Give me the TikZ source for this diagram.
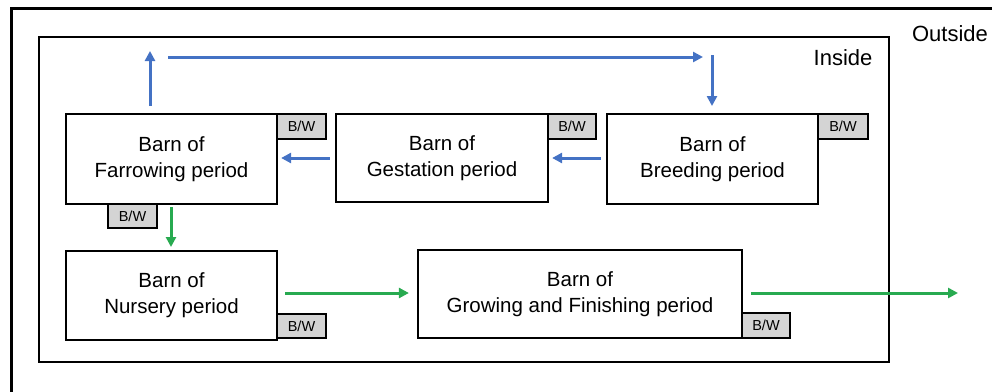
\documentclass[tikz,border=0pt]{standalone}
\usepackage{fontspec}
\setmainfont{Liberation Sans}
\usetikzlibrary{arrows.meta}
\definecolor{bluearr}{RGB}{68,114,196}
\definecolor{greenarr}{RGB}{40,170,80}
\definecolor{bwgray}{RGB}{212,212,212}
\tikzset{
  barn/.style={draw, line width=2.2pt, inner sep=0pt, align=center, font=\fontsize{20.5}{26}\selectfont},
  bw/.style={draw, line width=2.2pt, fill=bwgray, inner sep=0pt, font=\fontsize{14.5}{16}\selectfont},
  barrow/.style={bluearr, line width=3pt, -{Triangle[length=10pt,width=10pt]}},
  garrow/.style={greenarr, line width=3pt, -{Triangle[length=10pt,width=10pt]}},
  frame/.style={draw, line width=2.6pt},
  lab/.style={font=\fontsize{22}{26}\selectfont}
}
\begin{document}
\begin{tikzpicture}[x=1pt,y=-1pt]
\useasboundingbox (0,0) rectangle (992,391);
% outer frame
\draw[line width=3pt] (11,395) -- (11,8) -- (996,8);
\node[lab, anchor=center] (outside) at (950,34) {Outside};
% inner frame
\draw[frame] (39,37) rectangle (889,362);
\node[lab, anchor=center] (inside) at (843,58) {Inside};
% barns
\node[barn, minimum width=211pt, minimum height=90pt] (far) at (171.5,159) {Barn of\\Farrowing period};
\node[barn, minimum width=212pt, minimum height=88pt] (ges) at (442,158) {Barn of\\Gestation period};
\node[barn, minimum width=211pt, minimum height=90pt] (bre) at (712.5,159) {Barn of\\Breeding period};
\node[barn, minimum width=211pt, minimum height=89pt] (nur) at (171.5,295.5) {Barn of\\Nursery period};
\node[barn, minimum width=324pt, minimum height=88pt] (gro) at (580,294) {Barn of\\Growing and Finishing period};
% B/W boxes
\node[bw, minimum width=49pt, minimum height=25pt] (bw1) at (301.5,126.5) {B/W};
\node[bw, minimum width=48pt, minimum height=25pt] (bw2) at (572,126.5) {B/W};
\node[bw, minimum width=50pt, minimum height=25pt] (bw3) at (843,126.5) {B/W};
\node[bw, minimum width=49pt, minimum height=24pt] (bw4) at (132.5,216) {B/W};
\node[bw, minimum width=49pt, minimum height=24pt] (bw5) at (301.5,326) {B/W};
\node[bw, minimum width=48pt, minimum height=25pt] (bw6) at (766,325.5) {B/W};
% coordinates for arrows
\coordinate (upS) at (150,106);
\coordinate (upE) at (150,51);
\coordinate (topS) at (168,57);
\coordinate (topE) at (703,57);
\coordinate (dnS) at (712,55);
\coordinate (dnE) at (712,106);
\coordinate (rowA) at (0,158);
\coordinate (rowB) at (0,293);
\coordinate (exitE) at (958,293);
% blue arrows
\draw[barrow] (upS) -- (upE);
\draw[barrow] (topS) -- (topE);
\draw[barrow] (dnS) -- (dnE);
\draw[barrow] ([xshift=-5pt]bre.west |- rowA) -- ([xshift=3pt]ges.east |- rowA);
\draw[barrow] ([xshift=-5pt]ges.west |- rowA) -- ([xshift=3pt]far.east |- rowA);
% green arrows
\draw[garrow] (far.south -| 171,0) ++(0,2) -- (171,247);
\draw[garrow] ([xshift=7pt]nur.east |- rowB) -- ([xshift=-8pt]gro.west |- rowB);
\draw[garrow] ([xshift=8pt]gro.east |- rowB) -- (exitE);
\end{tikzpicture}
\end{document}
